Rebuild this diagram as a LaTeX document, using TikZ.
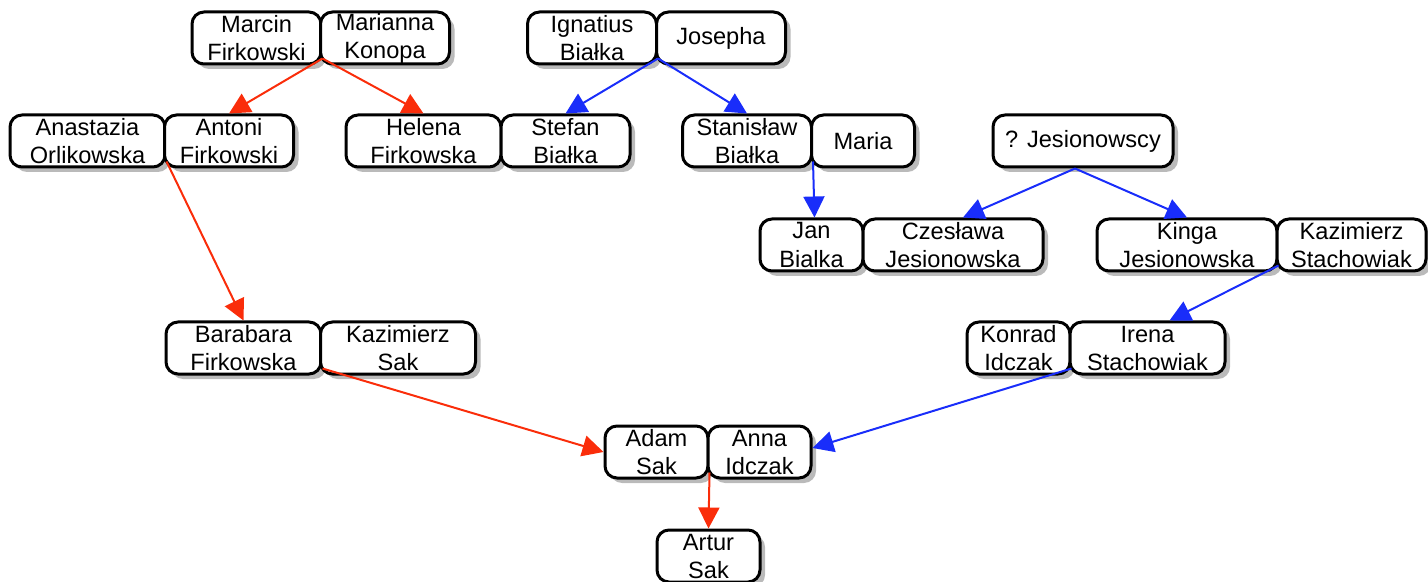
\documentclass[tikz,border=0pt]{standalone}
\usepackage{fontspec}
\setmainfont{Liberation Sans}
\usepackage{xcolor}
\usepackage{tikz}
\usetikzlibrary{calc}
\usetikzlibrary{arrows.meta}
\usetikzlibrary{shadows}
\definecolor{linered}{RGB}{250,45,10}
\definecolor{lineblue}{RGB}{25,45,250}
\tikzset{>={Triangle[length=10.5pt,width=10.5pt]}}
\tikzstyle{person} = [rectangle, draw=black, line width=1.5pt, rounded corners=6pt, fill=white, align=center, minimum height=26pt, inner sep=0pt, font=\fontsize{11.8}{14}\selectfont, drop shadow={shadow xshift=2.5pt, shadow yshift=-2.5pt, fill=black!60, opacity=0.45}]
\tikzstyle{narrow} = [person, minimum width=51.5pt]
\tikzstyle{mid} = [person, minimum width=64.5pt]
\tikzstyle{wide} = [person, minimum width=77.5pt]
\tikzstyle{widest} = [person, minimum width=90pt]
\tikzstyle{redline} = [->, draw=linered, line width=1pt]
\tikzstyle{blueline} = [->, draw=lineblue, line width=1pt]

\begin{document}
\begin{tikzpicture}[x=0.5pt, y=-0.5pt]
\useasboundingbox (0,0) rectangle (1428,582);
\node [mid] (Marcin) at (256.5,38) {Marcin\\Firkowski};
\node [mid] (Marianna) at (385,38) {Marianna\\Konopa};
\node [mid] (Ignatius) at (592,38) {Ignatius\\Białka};
\node [mid] (Josepha) at (721,38) {Josepha};
\node [wide] (Anastazia) at (87.5,141) {Anastazia\\Orlikowska};
\node [mid] (Antoni) at (229,141) {Antoni\\Firkowski};
\node [wide] (Helena) at (423.5,141) {Helena\\Firkowska};
\node [mid] (Stefan) at (565.5,141) {Stefan\\Białka};
\node [mid] (Stanislaw) at (747,141) {Stanisław\\Białka};
\node [narrow] (Maria) at (863,141) {Maria};
\node [widest] (Jesionowscy) at (1083,141) {? Jesionowscy};
\node [narrow] (Jan) at (811.5,245) {Jan\\Bialka};
\node [widest] (Czeslawa) at (953,245) {Czesława\\Jesionowska};
\node [widest] (Kinga) at (1187,245) {Kinga\\Jesionowska};
\node [person, minimum width=74.5pt] (KazimierzS) at (1351.5,245) {Kazimierz\\Stachowiak};
\node [wide] (Barabara) at (243.5,348) {Barabara\\Firkowska};
\node [wide] (KazimierzSak) at (398,348) {Kazimierz\\Sak};
\node [narrow] (Konrad) at (1018.5,348) {Konrad\\Idczak};
\node [wide] (Irena) at (1147.5,348) {Irena\\Stachowiak};
\node [narrow] (Adam) at (656.5,452) {Adam\\Sak};
\node [narrow] (Anna) at (759.5,452) {Anna\\Idczak};
\node [narrow] (Artur) at (708.5,556) {Artur\\Sak};
\coordinate (MM) at ([yshift=3.5pt]Marcin.south east);
\coordinate (IJ) at ([yshift=3.5pt]Ignatius.south east);
\coordinate (AA) at ([yshift=3.5pt]Anastazia.south east);
\coordinate (SM) at ([yshift=3.5pt]Stanislaw.south east);
\coordinate (KK) at ([yshift=3.5pt]Kinga.south east);
\coordinate (BK) at ([yshift=3.5pt]Barabara.south east);
\coordinate (KI) at ([yshift=3.5pt]Konrad.south east);
\coordinate (AI) at ([yshift=3.5pt]Adam.south east);
\draw [redline] (MM) to (Antoni.north);
\draw [redline] (MM) to (Helena.north);
\draw [blueline] (IJ) to (Stefan.north);
\draw [blueline] (IJ) to (Stanislaw.north);
\draw [redline] (AA) to (Barabara.north);
\draw [blueline] (SM) to ([xshift=1.5pt]Jan.north);
\draw [blueline] ([xshift=-4pt]Jesionowscy.south) to ([xshift=5pt]Czeslawa.north);
\draw [blueline] ([xshift=-4pt]Jesionowscy.south) to (Kinga.north);
\draw [blueline] (KK) to ([xshift=11pt]Irena.north);
\draw [redline] (BK) to (Adam.west);
\draw [blueline] (KI) to ([yshift=2pt]Anna.east);
\draw [redline] (AI) to (Artur.north);
\end{tikzpicture}
\end{document}
